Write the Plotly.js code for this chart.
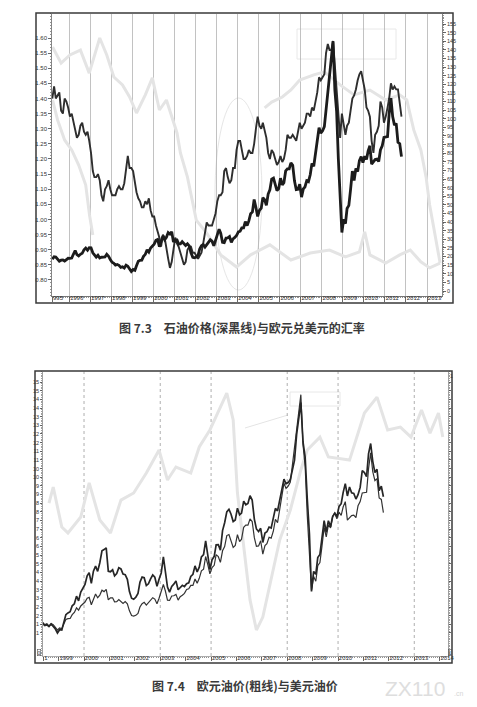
<!DOCTYPE html>
<html><head><meta charset="utf-8">
<script src="https://cdn.plot.ly/plotly-3.0.1.min.js"></script>
<style>html,body{margin:0;padding:0;background:#fff;}#chart{width:477px;height:707px;}</style>
</head><body><div id="chart"></div>
<script>
// ---------- Figure 7.3 : oil price (USD, right axis) and EUR/USD (left axis), monthly from 1995-03 ----------
const topStart = [1995, 3];
const oilUSD = [
 18.5,19.9,19.7,18.4,17.3,17.9,18.0,17.4,18.0,19.0,
 18.9,19.1,21.3,23.5,21.2,20.4,21.3,21.9,23.9,24.9,23.7,25.2,
 25.1,22.2,21.0,19.7,20.8,19.2,19.6,19.9,19.8,21.3,20.2,18.3,
 16.7,16.1,15.0,15.4,14.9,13.7,14.1,13.4,15.0,14.4,12.9,11.3,
 12.5,12.0,14.7,17.3,17.8,17.9,20.1,21.3,23.9,22.6,25.0,26.1,
 27.2,29.4,29.9,25.7,28.8,31.8,29.7,31.2,33.9,33.1,34.4,28.5,
 29.6,29.6,27.3,27.4,28.6,27.6,26.4,27.4,26.2,22.2,19.6,19.3,
 19.7,20.7,24.4,26.3,27.0,25.5,26.9,28.4,29.7,28.9,26.3,29.4,
 32.9,35.9,33.6,28.3,28.1,30.7,30.8,31.6,28.3,30.3,31.1,32.2,
 34.3,34.7,36.7,36.7,40.3,38.0,40.7,44.9,45.9,53.1,48.5,43.3,
 46.8,48.1,54.2,53.0,49.8,56.3,58.7,65.0,65.6,62.4,58.3,59.4,
 65.5,61.6,62.9,69.7,70.9,70.9,74.4,73.0,63.8,58.9,59.1,62.0,
 54.5,59.3,60.4,64.0,63.5,67.5,74.1,72.4,79.9,85.8,94.8,91.7,
 93.0,95.4,105.5,112.6,125.4,133.9,145.0,116.7,104.1,76.6,57.3,34.0,
 41.7,39.1,47.9,49.7,59.0,69.6,64.2,71.1,69.4,75.7,78.0,74.5,
 78.3,76.4,81.2,84.3,73.7,75.3,76.3,76.6,75.2,81.9,84.3,89.2,
 89.6,89.6,102.9,112.0,101.3,96.3,97.3,86.3,85.5,78.0
];
const eurUsd = [
 1.40,1.44,1.40,1.41,1.42,1.36,1.35,1.40,1.39,1.37,
 1.34,1.35,1.32,1.29,1.27,1.28,1.31,1.32,1.29,1.28,1.29,1.26,
 1.22,1.16,1.14,1.14,1.15,1.13,1.08,1.06,1.10,1.11,1.13,1.10,
 1.08,1.08,1.08,1.10,1.11,1.10,1.10,1.12,1.17,1.21,1.17,1.17,
 1.16,1.12,1.09,1.07,1.06,1.04,1.04,1.06,1.05,1.07,1.03,1.01,
 1.01,0.98,0.96,0.94,0.91,0.95,0.94,0.90,0.87,0.84,0.86,0.90,
 0.94,0.92,0.91,0.89,0.87,0.85,0.86,0.90,0.91,0.91,0.89,0.89,
 0.88,0.87,0.88,0.89,0.92,0.96,0.99,0.98,0.98,0.98,1.00,1.02,
 1.06,1.08,1.08,1.09,1.16,1.17,1.14,1.12,1.13,1.17,1.17,1.23,
 1.26,1.26,1.23,1.20,1.20,1.21,1.23,1.22,1.22,1.25,1.30,1.34,
 1.31,1.30,1.32,1.29,1.27,1.22,1.20,1.23,1.22,1.20,1.18,1.19,
 1.21,1.19,1.20,1.23,1.28,1.27,1.27,1.28,1.27,1.26,1.29,1.32,
 1.30,1.31,1.32,1.35,1.35,1.34,1.37,1.36,1.39,1.42,1.47,1.46,
 1.47,1.48,1.55,1.58,1.56,1.56,1.59,1.50,1.44,1.33,1.27,1.35,
 1.32,1.28,1.31,1.32,1.36,1.40,1.41,1.43,1.46,1.48,1.49,1.46,
 1.43,1.37,1.36,1.34,1.26,1.22,1.28,1.29,1.31,1.39,1.37,1.32,
 1.34,1.37,1.40,1.45,1.43,1.44,1.43,1.43,1.38,1.34
];
const topXTickVals = ['1995-03-14','1996-01-01','1997-01-01','1998-01-01','1999-01-01','2000-01-01','2001-01-01','2002-01-01','2003-01-01','2004-01-01','2005-01-01','2006-01-01','2007-01-01','2008-01-01','2009-01-01','2010-01-01','2011-01-01','2012-01-01','2013-01-01'];
const topXTickText = ['995','1996','1997','1998','1999','2000','2001','2002','2003','2004','2005','2006','2007','2008','2009','2010','2011','2012','2013'];
const leftTicks = [0.80,0.85,0.90,0.95,1.00,1.05,1.10,1.15,1.20,1.25,1.30,1.35,1.40,1.45,1.50,1.55,1.60];
const rightTicks = [0,5,10,15,20,25,30,35,40,45,50,55,60,65,70,75,80,85,90,95,100,105,110,115,120,125,130,135,140,145,150,155];

// faint show-through lines from the reverse page (left-axis units)
const ghostTopADates = ['1995-03-20','1995-08-15','1996-01-15','1996-07-15','1996-12-15','1997-06-15','1997-10-15','1998-02-15','1998-07-15','1998-11-15','1999-03-15','1999-08-15','1999-12-15','2000-04-15','2000-08-15','2001-02-15','2001-04-15','2001-08-15','2002-01-15','2002-07-15','2003-03-15','2003-12-15','2004-08-15','2005-01-15','2005-07-15','2006-07-15','2007-06-15','2008-05-15','2009-02-15','2009-10-15','2010-01-15','2010-04-15','2011-01-15','2011-09-15','2012-03-15','2012-09-15','2013-02-15','2013-08-15'];
const ghostTopAVals = [1.570,1.517,1.544,1.560,1.484,1.600,1.544,1.471,1.445,1.405,1.352,1.412,1.468,1.362,1.395,1.286,1.220,1.140,0.998,0.955,0.883,0.843,0.883,0.899,0.916,0.866,0.889,0.899,0.876,0.893,0.959,0.883,0.856,0.883,0.899,0.860,0.840,0.856];
const ghostTopBDates = ['2005-04-15','2005-08-15','2006-02-15','2006-07-15','2006-12-15','2007-08-15','2008-02-15','2008-11-15','2009-07-15','2010-04-15','2011-01-15','2011-09-15','2012-01-15','2012-05-15','2012-09-15','2012-12-15','2013-02-15','2013-05-15','2013-08-15'];
const ghostTopBVals = [1.369,1.388,1.405,1.428,1.461,1.478,1.488,1.445,1.412,1.428,1.395,1.412,1.395,1.296,1.230,1.140,1.048,0.955,0.856];
const ghostTopCDates = ['1995-03-20','1995-06-15','1995-10-15','1996-02-15','1996-06-15','1996-10-15','1996-12-20','1997-02-15'];
const ghostTopCVals = [1.395,1.329,1.263,1.230,1.180,1.114,1.015,0.949];

// ---------- Figure 7.4 : euro oil price (thick) and dollar oil price, chart units, monthly from 1998-05 ----------
const bottomStart = [1998, 5];
const euroOil = [
 1.61,1.46,1.52,1.38,1.52,1.37,1.23,1.00,
 1.19,1.17,1.63,2.06,2.16,2.23,2.57,2.69,3.13,2.86,3.37,3.63,
 3.80,4.30,4.49,3.87,4.57,4.86,4.56,5.06,5.75,5.82,5.92,4.57,
 4.54,4.65,4.30,4.43,4.77,4.70,4.41,4.37,4.10,3.39,3.01,2.95,
 3.07,3.29,3.93,4.23,4.19,3.74,3.84,4.13,4.35,4.22,3.70,4.11,
 4.47,5.40,4.48,3.65,3.36,3.69,3.82,4.01,3.50,3.64,3.75,3.68,
 3.85,3.90,4.27,4.39,4.88,4.53,4.80,5.40,5.53,6.32,5.48,4.67,
 5.23,5.43,6.09,6.10,5.79,6.92,7.37,8.00,8.15,7.86,7.44,7.53,
 8.21,7.83,7.93,8.62,8.41,8.48,8.93,8.68,7.58,7.01,6.86,7.05,
 6.23,6.77,6.85,7.12,7.06,7.60,8.20,8.06,8.75,9.23,9.89,9.62,
 9.69,9.88,10.47,10.99,12.46,13.34,14.31,12.04,11.15,8.77,6.75,3.40,
 4.56,4.39,5.36,5.54,6.47,7.49,6.82,7.49,7.14,7.73,7.92,7.71,
 8.31,8.47,9.11,9.63,8.92,9.44,9.10,9.06,8.74,8.99,9.41,10.39,
 10.27,10.03,11.35,11.95,10.92,10.27,10.46,9.22,9.48,8.87
];
const dollarOil = [
 1.54,1.41,1.45,1.38,1.55,1.48,1.33,1.17,
 1.29,1.24,1.51,1.78,1.83,1.84,2.06,2.19,2.45,2.32,2.56,2.67,
 2.79,3.01,3.06,2.63,2.95,3.25,3.04,3.19,3.47,3.39,3.52,2.92,
 3.03,3.03,2.80,2.81,2.93,2.83,2.70,2.81,2.68,2.28,2.01,1.98,
 2.02,2.13,2.50,2.69,2.77,2.61,2.76,2.91,3.04,2.96,2.69,3.01,
 3.37,3.80,3.44,2.90,2.88,3.14,3.15,3.23,2.90,3.10,3.18,3.29,
 3.51,3.55,3.75,3.75,4.12,3.88,4.16,4.59,4.69,5.42,4.95,4.42,
 4.78,4.91,5.53,5.41,5.08,5.75,5.99,6.63,6.69,6.37,5.95,6.06,
 6.68,6.28,6.42,7.11,7.23,7.23,7.59,7.44,6.51,6.01,6.03,6.33,
 5.56,6.05,6.16,6.53,6.48,6.88,7.56,7.38,8.15,8.75,9.66,9.35,
 9.48,9.72,10.75,11.47,12.77,13.64,14.77,11.89,10.61,7.81,5.85,3.48,
 4.26,3.99,4.89,5.07,6.02,7.10,6.55,7.25,7.08,7.72,7.95,7.60,
 7.98,7.79,8.28,8.59,7.52,7.68,7.78,7.81,7.67,8.35,8.59,9.09,
 9.13,9.13,10.48,11.41,10.32,9.81,9.92,8.80,8.72,7.95
];
const bottomXTickVals = ['1998-05-26','1999-01-01','2000-01-01','2001-01-01','2002-01-01','2003-01-01','2004-01-01','2005-01-01','2006-01-01','2007-01-01','2008-01-01','2009-01-01','2010-01-01','2011-01-01','2012-01-01','2013-01-01','2014-01-01'];
const bottomXTickText = ['1','1999','2000','2001','2002','2003','2004','2005','2006','2007','2008','2009','2010','2011','2012','2013','2014'];
const bottomYTickVals = [1,1.5,2,2.5,3,3.5,4,4.5,5,5.5,6,6.5,7,7.5,8,8.5,9,9.5,10,10.5,11,11.5,12,12.5,13,13.5,14,14.5,15,15.5];
const bottomYTickText = ['1','1','2','2','3','3','4','4','5','5','6','6','7','7','8','8','9','9','10','10','11','11','12','12','13','13','14','14','15','15'];
const bottomGridDates = ['2000-01-01','2003-01-01','2005-01-01','2008-01-01','2010-01-01','2013-01-01'];
const ghostBotDates = ['1998-08-15','1998-10-15','1999-02-15','1999-05-15','1999-11-15','2000-03-15','2000-08-15','2001-01-15','2001-06-15','2001-12-15','2002-06-15','2002-12-15','2003-04-15','2003-08-15','2004-03-15','2004-07-15','2004-12-15','2005-05-15','2005-08-15','2005-11-15','2006-01-15','2006-07-15','2006-10-15','2007-01-15','2007-05-15','2007-09-15','2008-02-15','2008-07-15','2008-10-15','2009-04-15','2009-08-15','2010-06-15','2011-01-15','2011-07-15','2011-12-15','2012-06-15','2012-11-15','2013-04-15','2013-08-15','2013-12-15','2014-02-15'];
const ghostBotVals = [8.51,9.43,7.12,6.78,7.70,9.67,7.53,6.78,8.68,9.09,10.24,11.57,9.84,10.59,10.24,11.75,12.73,14.06,14.86,13.31,9.09,2.91,1.17,1.92,4.06,6.37,8.11,10.42,11.57,12.32,11.17,10.99,13.71,14.63,12.73,12.90,12.32,13.88,12.55,13.71,12.32];

// ---------- helpers ----------
function monthDates(start, n){
  const out=[];
  for(let i=0;i<n;i++){
    const k=start[1]-1+i, y=start[0]+Math.floor(k/12), m=(k%12)+1;
    out.push(y+'-'+String(m).padStart(2,'0')+'-15');
  }
  return out;
}
const W=477,H=707;
const px=x=>x/W, py=y=>1-y/H;
const topDates = monthDates(topStart, oilUSD.length);
const botDates = monthDates(bottomStart, euroOil.length);

const tickFont = {family:'Liberation Sans, Arial, sans-serif', size:6, color:'#333'};
const ghostLine = {color:'#e4e4e4', width:3};

const traces = [
  {x:ghostTopADates, y:ghostTopAVals, xaxis:'x', yaxis:'y', mode:'lines', line:ghostLine, hoverinfo:'skip'},
  {x:ghostTopBDates, y:ghostTopBVals, xaxis:'x', yaxis:'y', mode:'lines', line:ghostLine, hoverinfo:'skip'},
  {x:ghostTopCDates, y:ghostTopCVals, xaxis:'x', yaxis:'y', mode:'lines', line:ghostLine, hoverinfo:'skip'},
  {x:topDates, y:eurUsd, xaxis:'x', yaxis:'y', mode:'lines', name:'EUR/USD', line:{color:'#2e2e2e', width:1.9}},
  {x:topDates, y:oilUSD, xaxis:'x', yaxis:'y2', mode:'lines', name:'Oil', line:{color:'#1c1c1c', width:2.8}},
  {x:ghostBotDates, y:ghostBotVals, xaxis:'x2', yaxis:'y3', mode:'lines', line:ghostLine, hoverinfo:'skip'},
  {x:botDates, y:dollarOil, xaxis:'x2', yaxis:'y3', mode:'lines', name:'USD oil', line:{color:'#333', width:1.2}},
  {x:botDates, y:euroOil, xaxis:'x2', yaxis:'y3', mode:'lines', name:'EUR oil', line:{color:'#262626', width:1.7}}
];

const shapes = [
  {type:'rect', xref:'paper', yref:'paper', x0:px(36), x1:px(453), y0:py(303), y1:py(13), line:{color:'#3a3a3a', width:1.5}, layer:'above'},
  {type:'rect', xref:'paper', yref:'paper', x0:px(35), x1:px(452), y0:py(663), y1:py(371), line:{color:'#3a3a3a', width:1.5}, layer:'above'},
  {type:'circle', xref:'paper', yref:'paper', x0:px(215), x1:px(262), y0:py(290), y1:py(98), line:{color:'#e6e6e6', width:1}, layer:'below'},
  {type:'rect', xref:'paper', yref:'paper', x0:px(297), x1:px(396), y0:py(59), y1:py(29), line:{color:'#e8e8e8', width:1}, layer:'below'},
  {type:'rect', xref:'paper', yref:'paper', x0:px(290), x1:px(340), y0:py(406), y1:py(392), line:{color:'#e8e8e8', width:1}, layer:'below'},
  {type:'line', xref:'paper', yref:'paper', x0:px(245), x1:px(288), y0:py(428), y1:py(415), line:{color:'#e4e4e4', width:1}, layer:'below'}
];
bottomGridDates.forEach(d=>shapes.push({type:'line', xref:'x2', yref:'y3 domain', x0:d, x1:d, y0:0, y1:1, line:{color:'#9a9a9a', width:0.8, dash:'dot'}, layer:'below'}));

const capFont = {family:'Noto Sans CJK SC, sans-serif', size:12, color:'#3a3a3a', weight:'bold'};
const smallFont = {family:'Liberation Sans, sans-serif', size:5, color:'#333'};
const ann = (x, y, text, font, extra) => Object.assign({xref:'paper', yref:'paper', x:px(x), y:py(y), xanchor:'center', yanchor:'middle', text:text, showarrow:false, font:font}, extra||{});
const annotations = [
  ann(242, 327, '图 7.3\u3000石油价格(深黑线)与欧元兑美元的汇率', capFont),
  ann(245, 685, '图 7.4\u3000欧元油价(粗线)与美元油价', capFont),
  ann(415, 688, 'ZX110', {family:'Liberation Sans Narrow, Liberation Sans, sans-serif', size:21, color:'#dedede'}),
  ann(458, 693, '.cn', {family:'Liberation Sans, sans-serif', size:7, color:'#d6d6d6'}),
  ann(39, 652, '0', smallFont, {bordercolor:'#555', borderwidth:0.6, borderpad:0}),
  ann(450, 652, '1', smallFont, {bordercolor:'#555', borderwidth:0.6, borderpad:0}),
  ann(451, 376, '1', smallFont)
];

const layout = {
  width:W, height:H, margin:{l:0,r:0,t:0,b:0}, showlegend:false,
  paper_bgcolor:'#fff', plot_bgcolor:'rgba(0,0,0,0)',
  xaxis:{domain:[px(52),px(442)], anchor:'y', type:'date', range:['1995-03-10','2013-09-17'],
    tickmode:'array', tickvals:topXTickVals, ticktext:topXTickText, tickangle:0, ticks:'outside', ticklen:5, tickcolor:'#444', tickwidth:0.8,
    ticklabelposition:'outside right', ticklabelstandoff:-4, tickfont:tickFont,
    showgrid:true, gridcolor:'#a8a8a8', gridwidth:0.7, showline:true, linecolor:'#555', linewidth:0.8, zeroline:false,
    minor:{tickmode:'linear', dtick:'M1', tick0:'1995-01-01', ticks:'outside', ticklen:1.5, tickcolor:'#777', showgrid:false}},
  yaxis:{domain:[py(296),py(13.5)], anchor:'x', range:[0.747,1.681], tickmode:'array', tickvals:leftTicks, tickformat:'.2f',
    ticks:'outside', ticklen:3, tickcolor:'#444', tickwidth:0.8, tickfont:tickFont, showgrid:false, zeroline:false,
    showline:true, linecolor:'#666', linewidth:0.8,
    minor:{tickmode:'linear', tick0:0, dtick:0.01, ticks:'outside', ticklen:1.5, tickcolor:'#777', showgrid:false}},
  yaxis2:{overlaying:'y', anchor:'x', side:'right', range:[-2.9,161.1], tickmode:'array', tickvals:rightTicks,
    ticks:'outside', ticklen:3, tickcolor:'#444', tickwidth:0.8, tickfont:{family:'Liberation Sans, Arial, sans-serif', size:5.5, color:'#333'},
    showgrid:false, zeroline:false, showline:true, linecolor:'#666', linewidth:0.8,
    minor:{tickmode:'linear', tick0:0, dtick:1, ticks:'outside', ticklen:1.5, tickcolor:'#777', showgrid:false}},
  xaxis2:{domain:[px(43),px(448)], anchor:'y3', type:'date', range:['1998-05-21','2014-05-01'],
    tickmode:'array', tickvals:bottomXTickVals, ticktext:bottomXTickText, tickangle:0, ticks:'outside', ticklen:4, tickcolor:'#444', tickwidth:0.8,
    ticklabelposition:'outside right', ticklabelstandoff:-4, tickfont:tickFont,
    showgrid:false, showline:true, linecolor:'#999', linewidth:0.8, zeroline:false,
    minor:{tickmode:'linear', dtick:'M1', tick0:'1998-01-01', ticks:'outside', ticklen:1.5, tickcolor:'#777', showgrid:false}},
  yaxis3:{domain:[py(656),py(371.5)], anchor:'x2', range:[-0.33,16.11], tickmode:'array', tickvals:bottomYTickVals, ticktext:bottomYTickText,
    ticks:'outside', ticklen:2, tickcolor:'#444', tickwidth:0.8, tickfont:{family:'Liberation Sans, Arial, sans-serif', size:5.5, color:'#333'},
    showgrid:false, zeroline:false, showline:true, linecolor:'#888', linewidth:0.8, mirror:'ticks',
    minor:{tickmode:'linear', tick0:0, dtick:0.1, ticks:'outside', ticklen:1.2, tickcolor:'#888', showgrid:false}},
  shapes:shapes, annotations:annotations
};
Plotly.newPlot('chart', traces, layout, {staticPlot:true, displayModeBar:false});
</script></body></html>
